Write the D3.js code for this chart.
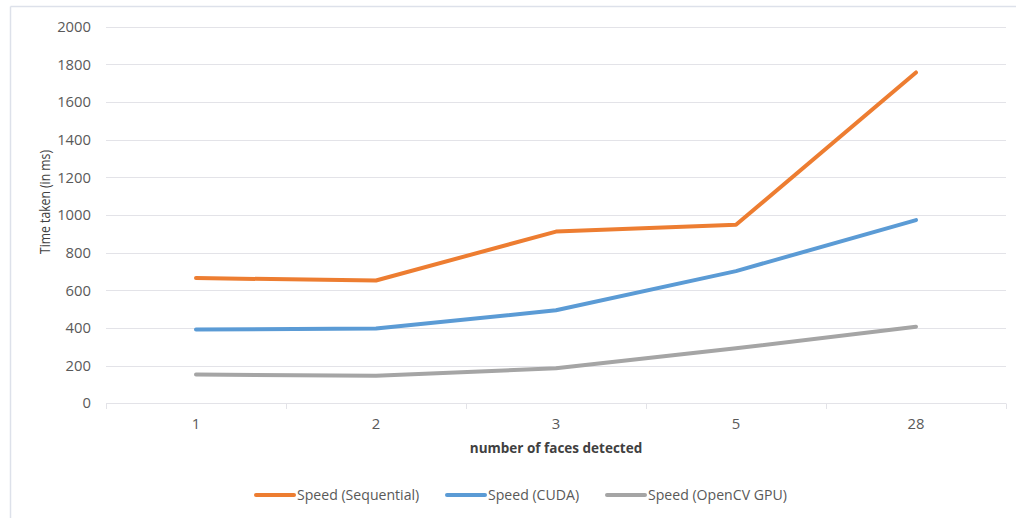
<!DOCTYPE html>
<html><head><meta charset="utf-8">
<script src="https://cdn.jsdelivr.net/npm/d3@7"></script>
<style>body{margin:0;background:#fff}svg{display:block}</style>
</head><body>
<svg id="c" width="1016" height="518"></svg>
<script>
const categories = ["1", "2", "3", "5", "28"];
const seqValues = [665, 652, 912, 948, 1757];
const cudaValues = [392, 397, 494, 702, 973];
const opencvValues = [153, 146, 186, 292, 407];
const seriesNames = ["Speed (Sequential)", "Speed (CUDA)", "Speed (OpenCV GPU)"];
const seriesColors = ["#ED7D31", "#5B9BD5", "#A5A5A5"];
const yTicks = [0, 200, 400, 600, 800, 1000, 1200, 1400, 1600, 1800, 2000];

const series = [seqValues, cudaValues, opencvValues].map((v, i) => ({name: seriesNames[i], color: seriesColors[i], values: v}));

const svg = d3.select("#c");
const font = "'Open Sans', 'Noto Sans', sans-serif";

// frame (top & left visible)
svg.append("line").attr("x1", 10.5).attr("x2", 10.5).attr("y1", 6.5).attr("y2", 518).attr("stroke", "#dde1ea").attr("stroke-width", 1.5);
svg.append("line").attr("x1", 10.5).attr("x2", 1016).attr("y1", 6.5).attr("y2", 6.5).attr("stroke", "#dde1ea").attr("stroke-width", 1.5);

const x = d3.scaleBand().domain(categories).range([106, 1006]);
const y = d3.scaleLinear().domain([0, 2000]).range([403.3, 26.7]);

// gridlines
svg.append("g").selectAll("line").data(yTicks).join("line")
  .attr("x1", 106).attr("x2", 1006)
  .attr("y1", d => Math.round(y(d)) + 0.5).attr("y2", d => Math.round(y(d)) + 0.5)
  .attr("stroke", "#e3e3e8").attr("stroke-width", 1);

// y labels
svg.append("g").selectAll("text").data(yTicks).join("text")
  .attr("x", 91).attr("y", d => y(d)).attr("dy", "0.35em")
  .attr("text-anchor", "end").attr("font-family", font).attr("font-size", 14.8)
  .attr("fill", "#595959").text(d => d);

// x axis category ticks
const bounds = categories.map(c => x(c)).concat([x.range()[1]]);
svg.append("g").selectAll("line").data(bounds).join("line")
  .attr("x1", d => Math.round(d) + 0.5).attr("x2", d => Math.round(d) + 0.5)
  .attr("y1", 403.5).attr("y2", 409).attr("stroke", "#e3e3e8");

svg.append("g").selectAll("text").data(categories).join("text")
  .attr("x", d => x(d) + x.bandwidth() / 2).attr("y", 424).attr("dy", "0.35em")
  .attr("text-anchor", "middle").attr("font-family", font).attr("font-size", 14.8)
  .attr("fill", "#595959").text(d => d);

// lines
const line = d3.line().x((d, i) => x(categories[i]) + x.bandwidth() / 2).y(d => y(d));
svg.append("g").selectAll("path").data(series).join("path")
  .attr("d", d => line(d.values)).attr("fill", "none")
  .attr("stroke", d => d.color).attr("stroke-width", 4)
  .attr("stroke-linecap", "round").attr("stroke-linejoin", "round");

// axis titles
svg.append("text").attr("x", 556).attr("y", 448).attr("dy", "0.35em")
  .attr("text-anchor", "middle").attr("font-family", font).attr("font-size", 13.5)
  .attr("font-weight", "bold").attr("fill", "#404040").text("number of faces detected");

svg.append("text").attr("transform", "translate(45,202) rotate(-90)").attr("dy", "0.35em")
  .attr("text-anchor", "middle").attr("font-family", font).attr("font-size", 14)
  .attr("textLength", 104).attr("lengthAdjust", "spacingAndGlyphs")
  .attr("fill", "#404040").text("Time taken (in ms)");

// legend
const legendX = [256, 447, 607];
const lg = svg.append("g").selectAll("g").data(series).join("g")
  .attr("transform", (d, i) => `translate(${legendX[i]},495)`);
lg.append("line").attr("x1", 0).attr("x2", 38).attr("y1", 0).attr("y2", 0)
  .attr("stroke", d => d.color).attr("stroke-width", 4).attr("stroke-linecap", "round");
lg.append("text").attr("x", 41).attr("dy", "0.35em").attr("font-family", font).attr("font-size", 14.1)
  .attr("fill", "#595959").text(d => d.name);
</script>
</body></html>
